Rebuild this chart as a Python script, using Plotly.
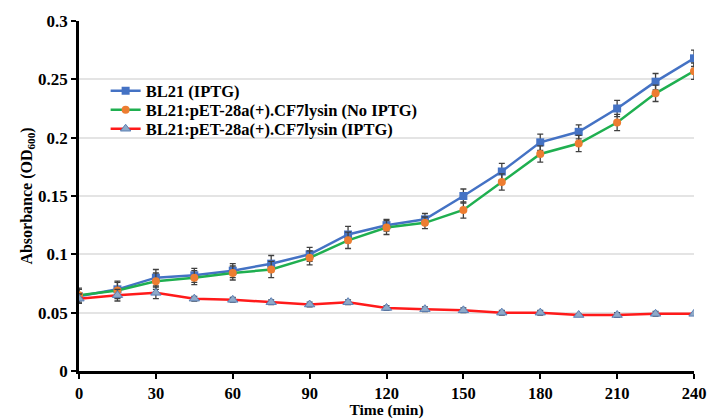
import plotly.graph_objects as go

time = [0, 15, 30, 45, 60, 75, 90, 105, 120, 135, 150, 165, 180, 195, 210, 225, 240]
bl21_iptg = [0.064, 0.070, 0.080, 0.082, 0.086, 0.092, 0.100, 0.117, 0.125, 0.130, 0.150, 0.171, 0.196, 0.205, 0.225, 0.248, 0.268]
bl21_iptg_err = [0.006, 0.007, 0.007, 0.006, 0.006, 0.007, 0.006, 0.007, 0.005, 0.005, 0.006, 0.007, 0.007, 0.006, 0.007, 0.007, 0.007]
lysin_no_iptg = [0.065, 0.069, 0.077, 0.080, 0.084, 0.087, 0.097, 0.112, 0.123, 0.127, 0.138, 0.162, 0.186, 0.195, 0.213, 0.238, 0.257]
lysin_no_iptg_err = [0.006, 0.007, 0.007, 0.006, 0.006, 0.007, 0.006, 0.007, 0.006, 0.005, 0.007, 0.007, 0.007, 0.007, 0.007, 0.007, 0.007]
lysin_iptg = [0.062, 0.065, 0.067, 0.062, 0.061, 0.059, 0.057, 0.059, 0.054, 0.053, 0.052, 0.050, 0.050, 0.048, 0.048, 0.049, 0.049]
lysin_iptg_err = [0.004, 0.005, 0.005, 0.002, 0.002, 0.002, 0.002, 0.002, 0.002, 0.002, 0.002, 0.002, 0.002, 0.001, 0.002, 0.002, 0.001]
x_ticks = [0, 30, 60, 90, 120, 150, 180, 210, 240]
y_ticks = [0, 0.05, 0.1, 0.15, 0.2, 0.25, 0.3]
y_tick_labels = ["0", "0.05", "0.1", "0.15", "0.2", "0.25", "0.3"]

font_family = "Liberation Serif, Times New Roman, serif"
err_color = "#404040"

fig = go.Figure()
fig.add_trace(go.Scatter(
    x=time, y=bl21_iptg, name="<b>BL21 (IPTG)</b>", mode="lines+markers",
    line=dict(color="#4472C4", width=2.5),
    marker=dict(symbol="square", size=8, color="#4472C4"),
    error_y=dict(type="data", array=bl21_iptg_err, color=err_color, thickness=1.3, width=3),
    legend="legend",
))
fig.add_trace(go.Scatter(
    x=time, y=lysin_no_iptg, name="<b>BL21:pET-28a(+).CF7lysin (No IPTG)</b>", mode="lines+markers",
    line=dict(color="#1FAF50", width=2.5),
    marker=dict(symbol="circle", size=8, color="#ED7D31"),
    error_y=dict(type="data", array=lysin_no_iptg_err, color=err_color, thickness=1.3, width=3),
    legend="legend2",
))
fig.add_trace(go.Scatter(
    x=time, y=lysin_iptg, name="<b>BL21:pET-28a(+).CF7lysin (IPTG)</b>", mode="lines+markers",
    line=dict(color="#FF1A1A", width=2.5),
    marker=dict(symbol="triangle-up", size=9, color="#8FAAC8", line=dict(color="#5B7FB5", width=1)),
    error_y=dict(type="data", array=lysin_iptg_err, color=err_color, thickness=1.3, width=3),
    legend="legend3",
))

legend_font = dict(family=font_family, size=16.5, color="black")
def legend_at(y):
    return dict(x=0.0433, y=y, xanchor="left", yanchor="middle", font=legend_font,
                bgcolor="rgba(0,0,0,0)", itemwidth=30)

fig.update_layout(
    width=709, height=419,
    margin=dict(l=79, r=15, t=21, b=48),
    paper_bgcolor="white", plot_bgcolor="white",
    font=dict(family=font_family, color="black"),
    showlegend=True,
    legend=legend_at(0.80),
    legend2=legend_at(0.7457),
    legend3=legend_at(0.6914),
)
fig.update_xaxes(
    range=[0, 240], tickvals=x_ticks, ticktext=[f"<b>{t}</b>" for t in x_ticks],
    showline=True, linecolor="black", linewidth=2.5,
    ticks="outside", tickcolor="black", ticklen=5, tickwidth=2,
    showgrid=False, zeroline=False, automargin=False,
    tickfont=dict(family=font_family, size=16.5, color="black"),
    title=dict(text="<b>Time (min)</b>", font=dict(family=font_family, size=15.5, color="black"), standoff=1),
)
fig.update_yaxes(
    range=[0, 0.3], tickvals=y_ticks, ticktext=[f"<b>{t}</b>" for t in y_tick_labels],
    showline=True, linecolor="black", linewidth=2.5,
    ticks="outside", tickcolor="black", ticklen=5, tickwidth=2,
    showgrid=True, gridcolor="#E4E4E4", gridwidth=1.5, zeroline=False, automargin=False,
    tickfont=dict(family=font_family, size=17, color="black"),
    title=dict(text="<b>Absorbance (OD<sub>600</sub>)</b>", font=dict(family=font_family, size=16, color="black"), standoff=2),
)

fig.write_html("out.html", post_script="document.body.style.margin='0';",
               config={"displayModeBar": False})
